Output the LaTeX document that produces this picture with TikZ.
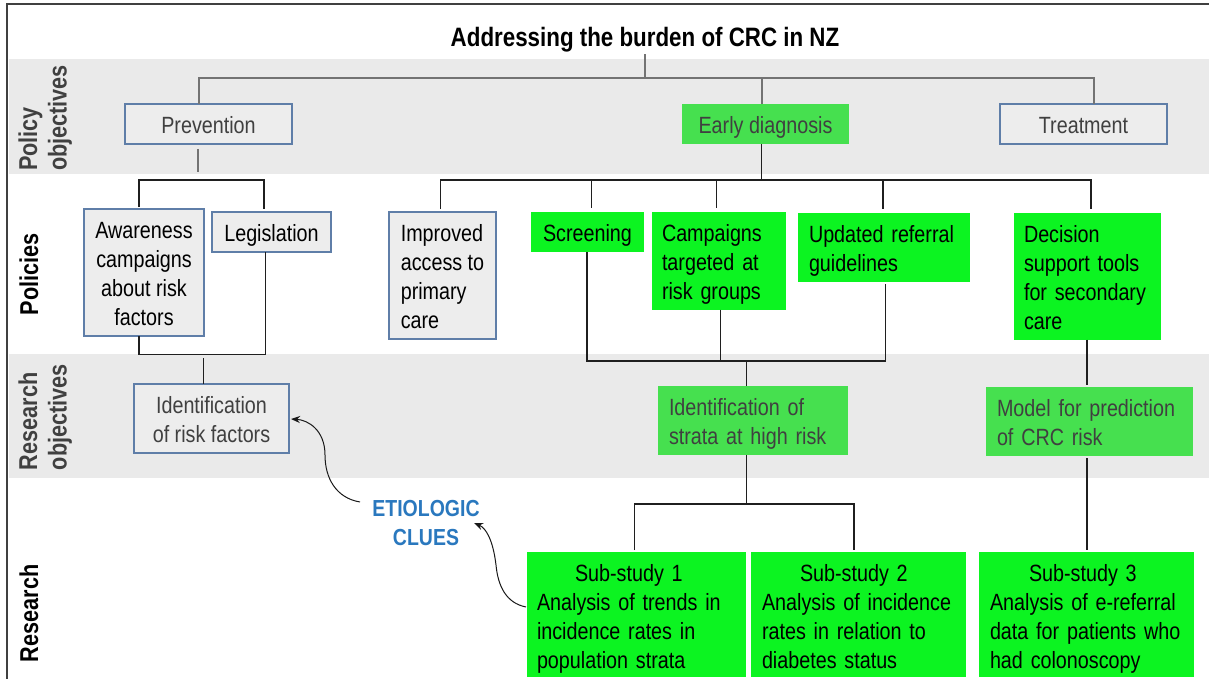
\documentclass[tikz,border=0pt]{standalone}
\usepackage{fontspec}
\setmainfont{Liberation Sans}[FakeStretch=0.84]
\usetikzlibrary{arrows.meta}
\definecolor{band}{HTML}{EAEAEA}
\definecolor{boxfill}{HTML}{EDEDED}
\definecolor{bord}{HTML}{5F7EA8}
\definecolor{gA}{HTML}{0CF421}
\definecolor{gB}{HTML}{46E04F}
\definecolor{txtg}{HTML}{404040}
\definecolor{etio}{HTML}{2A78BE}
\newcommand{\bodyfont}{\fontsize{23.5}{29}\selectfont}
\newcommand{\fst}{\rule{0pt}{29.5pt}}
\newcommand{\lst}[1][10.5]{\rule[-#1pt]{0pt}{#1pt}}
\begin{document}
\begin{tikzpicture}[x=1pt,y=-1pt,
  every node/.style={inner sep=0pt, outer sep=0pt},
  gbox/.style={draw=bord, line width=1.8pt, fill=boxfill, font=\bodyfont},
  brt/.style={fill=gA, font=\bodyfont},
  med/.style={fill=gB, font=\bodyfont, text=txtg},
  side/.style={rotate=90, anchor=base west, font=\fontsize{25.8}{30}\selectfont\bfseries},
  topln/.style={draw=black!55, line width=1.4pt},
  ln/.style={draw=black!88, line width=1.2pt},
  arr/.style={draw=black!90, line width=1pt, -{Stealth[length=9pt,width=7pt]}},
]
\useasboundingbox (0,0) rectangle (1209,679);
% bands
\fill[band] (9,59) rectangle (1209,174);
\fill[band] (9,354) rectangle (1209,478);
% frame
\draw[line width=2.5pt, draw=txtg] (7,679) -- (7,4) -- (1209,4);

% side labels
\node[side, text=txtg] (l1a) at (37,171) {Policy};
\node[side, text=txtg] (l1b) at (66.5,171) {objectives};
\node[side] (l2) at (38,315) {Policies};
\node[side, text=txtg] (l3a) at (37,470) {Research};
\node[side, text=txtg] (l3b) at (66.5,470) {objectives};
\node[side] (l4) at (38,662) {Research};

% title
\node[font=\fontsize{26.6}{30}\selectfont\bfseries] (title) at (645,40) {Addressing the burden of CRC in NZ};

% policy objectives
\node[gbox, text=txtg, minimum width=167pt, minimum height=40pt] (prev) at (208.5,124) {\fst Prevention\lst};
\node[med, minimum width=167pt, minimum height=40pt] (early) at (765.5,124) {\fst Early diagnosis\lst};
\node[gbox, text=txtg, minimum width=167pt, minimum height=40pt] (treat) at (1083.5,124) {\fst Treatment\lst};

% policies
\node[gbox, minimum width=120pt, minimum height=127pt, align=center] (aware) at (144,272.5) {\fst Awareness\\campaigns\\about risk\\factors\lst};
\node[gbox, minimum width=119pt, minimum height=40pt] (legis) at (271.5,231.7) {\fst Legislation\lst};
\node[gbox, minimum width=107pt, minimum height=127pt, align=left] (impr) at (442.5,275.5) {\fst Improved\\access to\\primary\\care\lst};
\node[brt, minimum width=113pt, minimum height=40pt] (screen) at (587.5,232) {\fst Screening\lst};
\node[brt, text width=114pt, inner xsep=10pt, minimum height=98pt, align=left] (camp) at (719,260.5) {\fst Campaigns\\targeted at\\risk groups\lst};
\node[brt, text width=150pt, inner xsep=11pt, minimum height=69pt, align=left] (upd) at (884,247) {\fst Updated referral\\guidelines\lst};
\node[brt, text width=127pt, inner xsep=10pt, minimum height=127pt, align=left] (dec) at (1087.5,276) {\fst Decision\\support tools\\for secondary\\care\lst};

% research objectives
\node[gbox, text=txtg, minimum width=155pt, minimum height=69pt, align=center] (idrf) at (211.5,418.5) {\fst Identification\\of risk factors\lst};
\node[med, text width=168pt, inner xsep=11pt, minimum height=69pt, align=left] (idst) at (753,420.5) {\fst Identification of\\strata at high risk\lst};
\node[med, text width=185pt, inner xsep=11pt, minimum height=69pt, align=left] (model) at (1089.5,421.5) {\fst Model for prediction\\of CRC risk\lst};

% research
\node[brt, text width=199pt, inner xsep=10pt, minimum height=125pt, align=left] (s1) at (636.5,614.5) {\fst\hspace*{38pt}Sub-study 1\\Analysis of trends in\\incidence rates in\\population strata\lst[8.5]};
\node[brt, text width=193pt, inner xsep=11pt, minimum height=125pt, align=left] (s2) at (858.5,614.5) {\fst\hspace*{38pt}Sub-study 2\\Analysis of incidence\\rates in relation to\\diabetes status\lst[8.5]};
\node[brt, text width=193pt, inner xsep=11pt, minimum height=125pt, align=left] (s3) at (1086.5,614.5) {\fst\hspace*{39pt}Sub-study 3\\Analysis of e-referral\\data for patients who\\had colonoscopy\lst[8.5]};

\node[font=\fontsize{23.2}{29.3}\selectfont\bfseries, text=etio, align=center] (etio) at (426,523) {ETIOLOGIC\\CLUES};

% ---- connectors ----
\coordinate (tL) at (199,78);
\coordinate (tM) at (645,78);
\coordinate (tE) at (762,78);
\coordinate (tR) at (1094,78);
\draw[topln] ([yshift=-2pt]title.south -| tM) -- (tM);
\draw[topln] (prev.north -| tL) |- (tR) -- (treat.north -| tR);
\draw[topln] (tE) -- (early.north -| tE);

\coordinate (pD) at (198,172);
\draw[topln] ([yshift=-5pt]prev.south -| pD) -- (pD);

\coordinate (b1L) at (139,180);
\coordinate (b1R) at (264,180);
\draw[ln, shorten <=2pt, shorten >=3pt] (aware.north -| b1L) |- (b1R) -- (legis.north -| b1R);

\coordinate (b2L) at (440.5,180);
\coordinate (b2a) at (591.5,180);
\coordinate (b2b) at (716.5,180);
\coordinate (b2E) at (761.5,180);
\coordinate (b2c) at (883,180);
\coordinate (b2R) at (1091,180);
\draw[ln, shorten <=3pt, shorten >=4pt] (impr.north -| b2L) |- (b2R) -- (dec.north -| b2R);
\draw[ln, shorten >=4pt] (b2a) -- (screen.north -| b2a);
\draw[ln, shorten >=4pt] (b2b) -- (camp.north -| b2b);
\draw[ln, shorten >=4pt] (b2c) -- (upd.north -| b2c);
\draw[ln] (early.south -| b2E) -- (b2E);

\coordinate (b3L) at (139,354.5);
\coordinate (b3R) at (265.5,354.5);
\coordinate (b3M) at (203.5,358);
\draw[ln] (aware.south -| b3L) |- (b3R) -- (legis.south -| b3R);
\draw[ln] (b3M) -- (idrf.north -| b3M);

\coordinate (b4L) at (587,361);
\coordinate (b4c) at (720.7,361);
\coordinate (b4M) at (746.7,361);
\coordinate (b4R) at (885.3,361);
\draw[ln] (screen.south -| b4L) |- (b4R) -- ([yshift=-2pt]upd.south -| b4R);
\draw[ln] (camp.south -| b4c) -- (b4c);
\draw[ln] (b4M) -- (idst.north -| b4M);

\coordinate (xDM) at (1087,400);
\draw[ln] (dec.south -| xDM) -- ([yshift=2pt]model.north -| xDM);
\draw[ln] ([yshift=-2pt]model.south -| xDM) -- ([yshift=2pt]s3.north -| xDM);

\coordinate (b5L) at (634.5,504);
\coordinate (b5M) at (746.7,504);
\coordinate (b5R) at (854,504);
\draw[ln] (idst.south -| b5M) -- (b5M);
\draw[ln, shorten <=2pt, shorten >=2pt] (s1.north -| b5L) |- (b5R) -- (s2.north -| b5R);

% curved arrows
\coordinate (a1s) at (360,502);
\coordinate (a1m) at (325,455);
\coordinate (a1e) at (291,419);
\coordinate (a2s) at (526,607);
\coordinate (a2m) at (496,565);
\coordinate (a2e) at (474,523);
\draw[arr] (a1s) .. controls (336,498) and (325,478) .. (a1m) .. controls (325,430) and (308,420) .. (a1e);
\draw[arr] (a2s) .. controls (506,603) and (498,586) .. (a2m) .. controls (493,540) and (486,528) .. (a2e);
\end{tikzpicture}
\end{document}
